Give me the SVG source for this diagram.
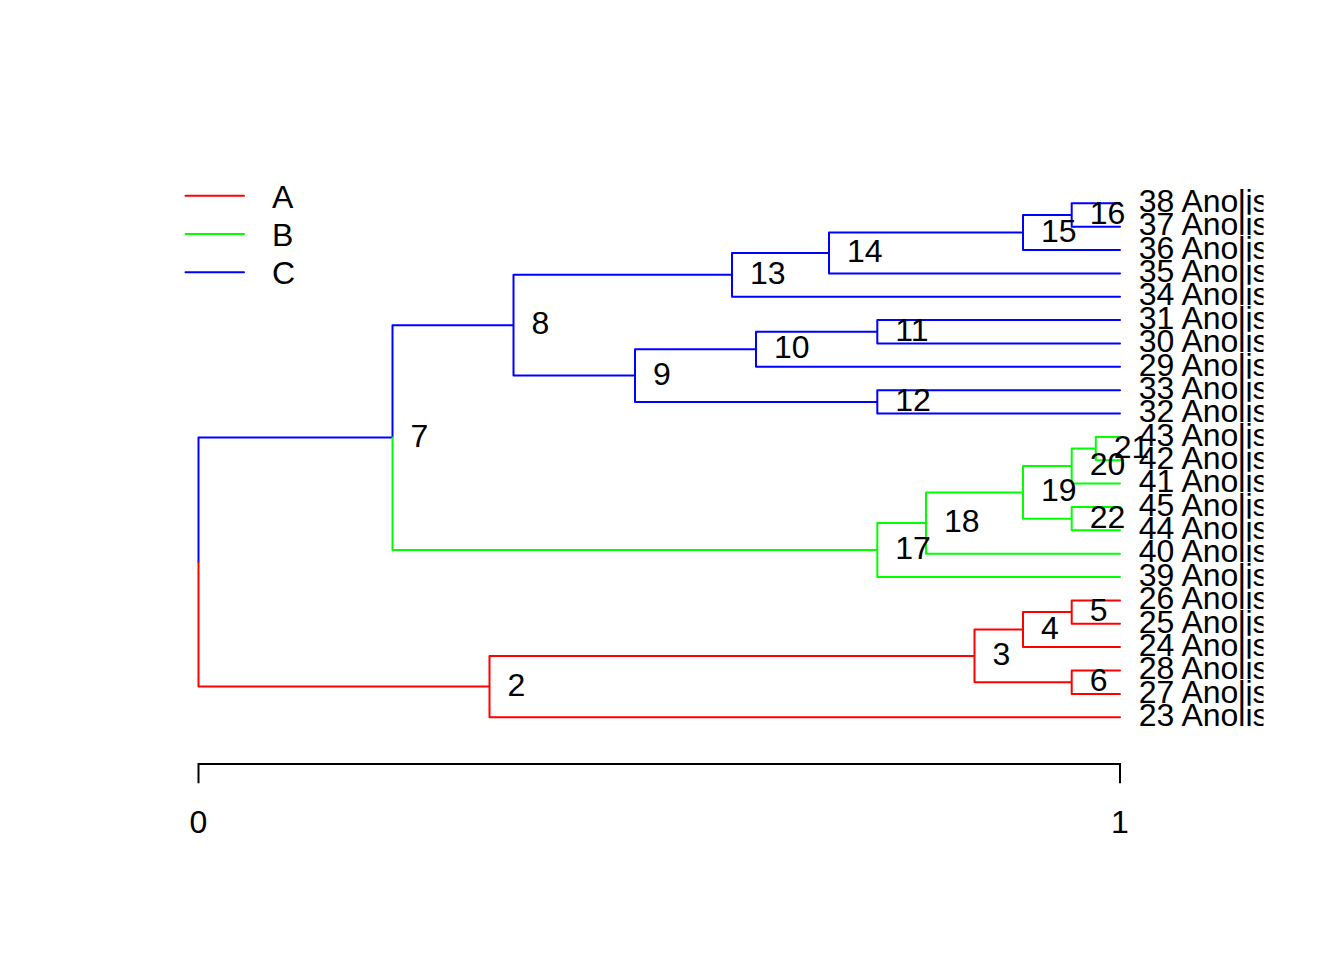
<svg xmlns="http://www.w3.org/2000/svg" width="1344" height="960" viewBox="0 0 1344 960">
<style>
.e{fill:none;stroke-width:2;stroke-linecap:round;stroke-linejoin:round}
.A{stroke:#FF0000}.B{stroke:#00FF00}.C{stroke:#0000FF}
text{font-family:"Liberation Sans",Arial,sans-serif;font-size:32px;fill:#000}
.nl{text-anchor:start}
</style>
<defs>
<clipPath id="plotclip"><rect x="0" y="0" width="1263.5" height="960"/></clipPath>
</defs>
<rect width="1344" height="960" fill="#FFFFFF"/>
<g id="connectors">
<path class="e C" d="M198.5,562.1V437.6H392.5 M392.5,437.6V325.2H513.5 M513.5,274.8V375.6 M513.5,274.8H732 M513.5,375.6H635 M732,253V296.7 M732,253H829 M732,296.7H1120 M829,232.5V273.4 M829,232.5H1023 M829,273.4H1120 M1023,215V250 M1023,215H1071.7 M1023,250H1120 M1071.7,203.3V226.7 M1071.7,203.3H1120 M1071.7,226.7H1120 M635,349.3V401.9 M635,349.3H756 M635,401.9H877.3 M756,331.8V366.8 M756,331.8H877.3 M756,366.8H1120 M877.3,320.1V343.5 M877.3,320.1H1120 M877.3,343.5H1120 M877.3,390.2V413.5 M877.3,390.2H1120 M877.3,413.5H1120"/>
<path class="e B" d="M392.5,437.6V550.1H877.3 M877.3,523V577.1 M877.3,523H926 M877.3,577.1H1120 M926,492.4V553.7 M926,492.4H1023 M926,553.7H1120 M1023,466.1V518.7 M1023,466.1H1071.7 M1023,518.7H1071.7 M1071.7,448.6V483.6 M1071.7,448.6H1095.8 M1071.7,483.6H1120 M1095.8,436.9V460.3 M1095.8,436.9H1120 M1095.8,460.3H1120 M1071.7,507V530.3 M1071.7,507H1120 M1071.7,530.3H1120"/>
<path class="e A" d="M198.5,562.1V686.6H489.5 M489.5,655.9V717.2 M489.5,655.9H974.5 M489.5,717.2H1120 M974.5,629.6V682.2 M974.5,629.6H1023 M974.5,682.2H1071.7 M1023,612.1V647.1 M1023,612.1H1071.7 M1023,647.1H1120 M1071.7,600.4V623.8 M1071.7,600.4H1120 M1071.7,623.8H1120 M1071.7,670.5V693.9 M1071.7,670.5H1120 M1071.7,693.9H1120"/>
</g>
<g id="tip-labels" clip-path="url(#plotclip)">
<text x="1138.7" y="212">38 Anolis</text>
<text x="1138.7" y="235.4">37 Anolis</text>
<text x="1138.7" y="258.7">36 Anolis</text>
<text x="1138.7" y="282.1">35 Anolis</text>
<text x="1138.7" y="305.4">34 Anolis</text>
<text x="1138.7" y="328.8">31 Anolis</text>
<text x="1138.7" y="352.2">30 Anolis</text>
<text x="1138.7" y="375.5">29 Anolis</text>
<text x="1138.7" y="398.9">33 Anolis</text>
<text x="1138.7" y="422.2">32 Anolis</text>
<text x="1138.7" y="445.6">43 Anolis</text>
<text x="1138.7" y="469">42 Anolis</text>
<text x="1138.7" y="492.3">41 Anolis</text>
<text x="1138.7" y="515.7">45 Anolis</text>
<text x="1138.7" y="539">44 Anolis</text>
<text x="1138.7" y="562.4">40 Anolis</text>
<text x="1138.7" y="585.8">39 Anolis</text>
<text x="1138.7" y="609.1">26 Anolis</text>
<text x="1138.7" y="632.5">25 Anolis</text>
<text x="1138.7" y="655.8">24 Anolis</text>
<text x="1138.7" y="679.2">28 Anolis</text>
<text x="1138.7" y="702.6">27 Anolis</text>
<text x="1138.7" y="725.9">23 Anolis</text>
</g>
<g id="node-2"><text class="nl" x="507.5" y="695.6">2</text></g>
<g id="node-3"><text class="nl" x="992.5" y="664.9">3</text></g>
<g id="node-4"><text class="nl" x="1041" y="638.6">4</text></g>
<g id="node-5"><text class="nl" x="1089.7" y="621.1">5</text></g>
<g id="node-6"><text class="nl" x="1089.7" y="691.2">6</text></g>
<g id="node-7"><text class="nl" x="410.5" y="446.6">7</text></g>
<g id="node-8"><text class="nl" x="531.5" y="334.2">8</text></g>
<g id="node-9"><text class="nl" x="653" y="384.6">9</text></g>
<g id="node-10"><text class="nl" x="774" y="358.3">10</text></g>
<g id="node-11"><text class="nl" x="895.3" y="340.8">11</text></g>
<g id="node-12"><text class="nl" x="895.3" y="410.9">12</text></g>
<g id="node-13"><text class="nl" x="750" y="283.8">13</text></g>
<g id="node-14"><text class="nl" x="847" y="262">14</text></g>
<g id="node-15"><text class="nl" x="1041" y="241.5">15</text></g>
<g id="node-16"><text class="nl" x="1089.7" y="224">16</text></g>
<g id="node-17"><text class="nl" x="895.3" y="559.1">17</text></g>
<g id="node-18"><text class="nl" x="944" y="532">18</text></g>
<g id="node-19"><text class="nl" x="1041" y="501.4">19</text></g>
<g id="node-20"><text class="nl" x="1089.7" y="475.1">20</text></g>
<g id="node-21"><text class="nl" x="1113.8" y="457.6">21</text></g>
<g id="node-22"><text class="nl" x="1089.7" y="527.7">22</text></g>
<g id="legend">
<path class="e A" d="M185.5,195.7H244"/>
<path class="e B" d="M185.5,234H244"/>
<path class="e C" d="M185.5,272.3H244"/>
<text x="272" y="208.3">A</text>
<text x="272" y="246.3">B</text>
<text x="272" y="284.3">C</text>
</g>
<g id="axis">
<path d="M198.5,783.3V764H1120V783.3" fill="none" stroke="#000" stroke-width="2"/>
<text x="198.5" y="832.7" text-anchor="middle">0</text>
<text x="1120" y="832.7" text-anchor="middle">1</text>
</g>
</svg>
